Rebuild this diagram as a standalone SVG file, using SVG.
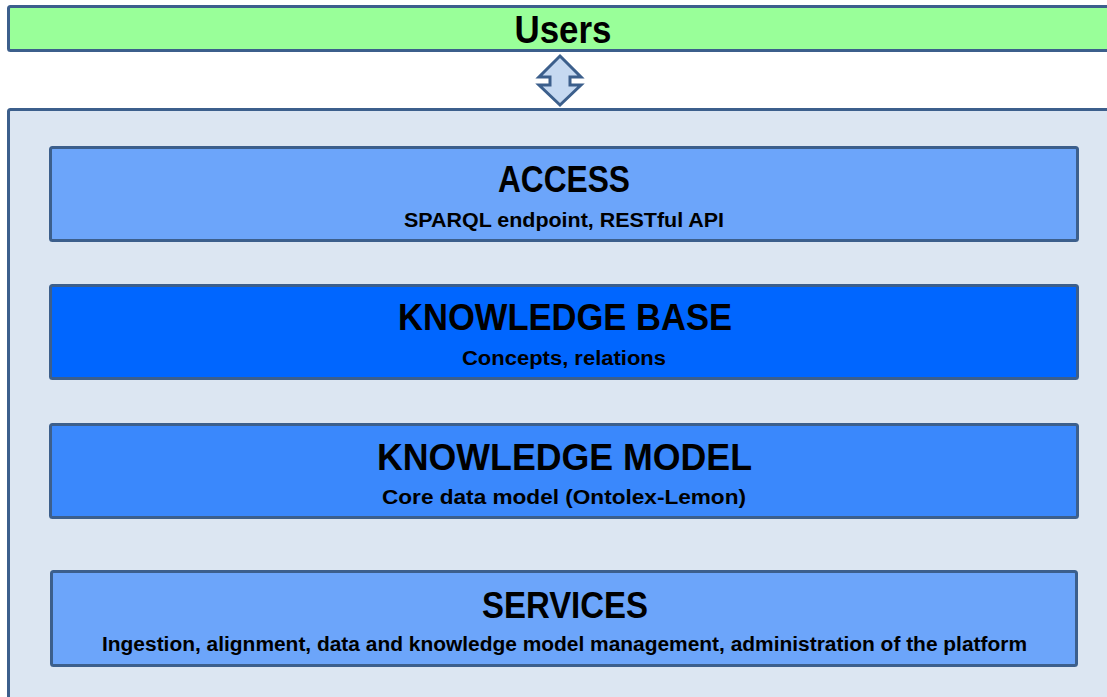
<svg xmlns="http://www.w3.org/2000/svg" width="1107" height="697" viewBox="0 0 1107 697">
<style>
.frame{stroke:#3c5f8c;stroke-width:3}
.box{stroke:#3c5f8c;stroke-width:3}
.t{font-family:"Liberation Sans",Arial,sans-serif;font-weight:bold;fill:#000;text-anchor:middle}
.h{font-size:36px}
.s{font-size:20px}
</style>
<rect width="1107" height="697" fill="#ffffff"/>
<g id="users">
<rect class="frame" x="8.5" y="6.5" width="1110" height="44" rx="2" fill="#99ff99"/>
<text class="t" x="563" y="43" font-size="39" textLength="97" lengthAdjust="spacingAndGlyphs">Users</text>
</g>
<g id="platform">
<rect class="frame" x="8.5" y="109.5" width="1110" height="600" rx="2" fill="#dce6f2"/>
</g>
<g id="connectors">
<polygon points="560,56 581,77 570,77 570,85 581,85 560,105 539,85 550,85 550,77 539,77" fill="#c6d9f1" stroke="#3c5f8c" stroke-width="3" stroke-linejoin="miter"/>
</g>
<g id="access">
<rect class="box" x="50.5" y="147.5" width="1027" height="93" rx="2" fill="#6ca5fa"/>
<text class="t h" x="564" y="192" textLength="132" lengthAdjust="spacingAndGlyphs">ACCESS</text>
<text class="t s" x="564" y="227" textLength="320" lengthAdjust="spacingAndGlyphs">SPARQL endpoint, RESTful API</text>
</g>
<g id="knowledge-base">
<rect class="box" x="50.5" y="285.5" width="1027" height="93" rx="2" fill="#0066ff"/>
<text class="t h" x="565" y="330" textLength="334" lengthAdjust="spacingAndGlyphs">KNOWLEDGE BASE</text>
<text class="t s" x="564" y="365" textLength="204" lengthAdjust="spacingAndGlyphs">Concepts, relations</text>
</g>
<g id="knowledge-model">
<rect class="box" x="50.5" y="424.5" width="1027" height="93" rx="2" fill="#3a88fc"/>
<text class="t h" x="564.5" y="470" textLength="375" lengthAdjust="spacingAndGlyphs">KNOWLEDGE MODEL</text>
<text class="t s" x="564" y="504" textLength="364" lengthAdjust="spacingAndGlyphs">Core data model (Ontolex-Lemon)</text>
</g>
<g id="services">
<rect class="box" x="51.5" y="571.5" width="1025" height="94" rx="2" fill="#6ca5fa"/>
<text class="t h" x="565" y="618" textLength="166" lengthAdjust="spacingAndGlyphs">SERVICES</text>
<text class="t s" x="564.5" y="651" textLength="925" lengthAdjust="spacingAndGlyphs">Ingestion, alignment, data and knowledge model management, administration of the platform</text>
</g>
</svg>
